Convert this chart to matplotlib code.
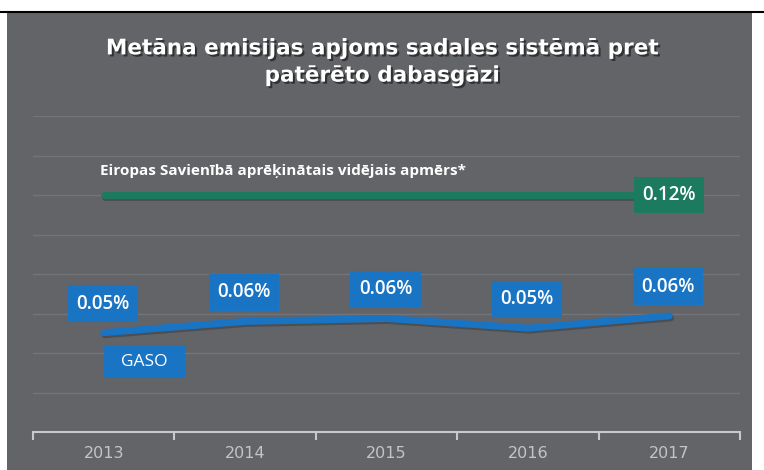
import numpy as np
import matplotlib
matplotlib.use('Agg')
import matplotlib.pyplot as plt
import matplotlib.patheffects as pe
from matplotlib.patches import Rectangle
from matplotlib.lines import Line2D

years = ['2013', '2014', '2015', '2016', '2017']
gaso = [0.0503, 0.0560, 0.0575, 0.0526, 0.0588]
gaso_labels = ['0.05%', '0.06%', '0.06%', '0.05%', '0.06%']
eu = [0.12, 0.12, 0.12, 0.12, 0.12]
eu_label = '0.12%'
eu_name = 'Eiropas Savienībā aprēķinātais vidējais apmērs*'
gaso_name = 'GASO'
title = 'Metāna emisijas apjoms sadales sistēmā pret\npatērēto dabasgāzi'

bg = '#636468'
grid_c = '#737478'
blue = '#1a74c4'
green = '#1c7a5e'
axis_c = '#c9c9c9'

plt.rcParams['font.family'] = ['Open Sans', 'DejaVu Sans']

fig = plt.figure(figsize=(7.64, 4.70), dpi=100)
fig.patch.set_facecolor('white')
W, H = 764, 470
fig.patches.append(Rectangle((7 / W, 0), (752 - 7) / W, 1 - 13 / H,
                             transform=fig.transFigure, facecolor=bg,
                             edgecolor='none', zorder=-10))
fig.lines.append(Line2D([0, 1], [1 - 12 / H, 1 - 12 / H], transform=fig.transFigure,
                        color='black', lw=1.5, zorder=-5))

ax = fig.add_axes([33 / W, 1 - 432 / H, 707 / W, (432 - 116) / H])
ax.set_facecolor('none')
x = np.arange(len(years))
ax.set_xlim(-0.5, len(years) - 0.5)
ax.set_ylim(0, 0.16)
ax.set_yticks(np.arange(0.02, 0.161, 0.02))
ax.yaxis.grid(True, color=grid_c, lw=1)
ax.set_axisbelow(True)
ax.tick_params(axis='y', length=0, labelleft=False)
for s in ['top', 'right', 'left']:
    ax.spines[s].set_visible(False)
ax.spines['bottom'].set_color(axis_c)
ax.spines['bottom'].set_linewidth(1.5)
ax.set_xticks(np.arange(-0.5, len(years)), labels=[])
ax.tick_params(axis='x', which='major', direction='out', length=6, width=1.5, color=axis_c)
ax.set_xticks(x, labels=years, minor=True)
ax.tick_params(axis='x', which='minor', length=0, pad=10, labelsize=11.5, labelcolor='#c4c4c4')
for lab in ax.get_xticklabels(minor=True):
    lab.set_family(['Liberation Sans Narrow', 'DejaVu Sans'])

shadow = [pe.SimpleLineShadow(offset=(1, -1.5), shadow_color='black', alpha=0.22), pe.Normal()]
ax.plot(x, eu, color=green, lw=5, solid_capstyle='round', path_effects=shadow, zorder=3)
ax.plot(x, gaso, color=blue, lw=5, solid_capstyle='round', path_effects=shadow, zorder=3)

ax.annotate(eu_label, (x[-1], eu[-1]), xytext=(0, 0), textcoords='offset pixels',
            ha='center', va='center', color='white', fontsize=13.5, fontweight='semibold',
            bbox=dict(boxstyle='square,pad=0.45', fc=green, ec='none'), zorder=5)
ax.annotate(eu_name, (x[0], eu[0]), xytext=(-4, 24), textcoords='offset pixels',
            ha='left', va='center', color='white', fontsize=11, fontweight='bold', zorder=5)

for xi, yi, lab in zip(x, gaso, gaso_labels):
    ax.annotate(lab, (xi, yi), xytext=(-1, 29), textcoords='offset pixels',
                ha='center', va='center', color='white', fontsize=13.5, fontweight='semibold',
                bbox=dict(boxstyle='square,pad=0.45', fc=blue, ec='none'), zorder=5)
ax.annotate(gaso_name, (x[0], gaso[0]), xytext=(41, -29), textcoords='offset pixels',
            ha='center', va='center', color='white', fontsize=12.5,
            bbox=dict(boxstyle='square,pad=1.0', fc=blue, ec='none', mutation_aspect=0.5),
            zorder=5)

fig.text(0.5, 1 - 62 / H, title, ha='center', va='center', color='white',
         fontsize=15.5, fontweight='bold', linespacing=1.45, family=['DejaVu Sans'],
         path_effects=[pe.withSimplePatchShadow(offset=(1.5, -1.5), shadow_rgbFace='black', alpha=0.5)])

fig.savefig('out.png', dpi=100, facecolor=fig.get_facecolor())
